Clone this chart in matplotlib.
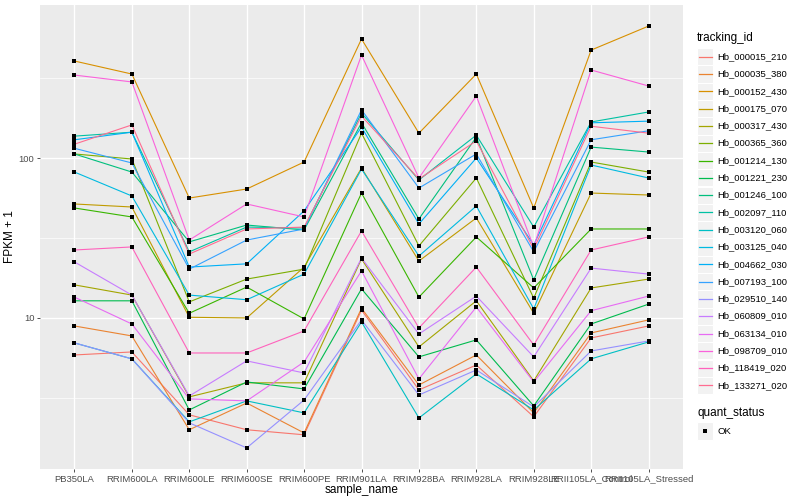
import matplotlib.pyplot as plt
from matplotlib.patches import Rectangle

plt.rcParams['font.family'] = ['Liberation Sans', 'DejaVu Sans']

samples = ['PB350LA', 'RRIM600LA', 'RRIM600LE', 'RRIM600SE', 'RRIM600PE', 'RRIM901LA',
           'RRIM928BA', 'RRIM928LA', 'RRIM928LE', 'RRII105LA_Control', 'RRII105LA_Stressed']

tracking_ids = ['Hb_000015_210', 'Hb_000035_380', 'Hb_000152_430', 'Hb_000175_070',
                'Hb_000317_430', 'Hb_000365_360', 'Hb_001214_130', 'Hb_001221_230',
                'Hb_001246_100', 'Hb_002097_110', 'Hb_003120_060', 'Hb_003125_040',
                'Hb_004662_030', 'Hb_007193_100', 'Hb_029510_140', 'Hb_060809_010',
                'Hb_063134_010', 'Hb_098709_010', 'Hb_118419_020', 'Hb_133271_020']

# ggplot hue palette, 20 levels
id_colors = ['#F8766D', '#EA8331', '#D89000', '#C09B00', '#A3A500', '#7CAE00', '#39B600',
             '#00BB4E', '#00BF7D', '#00C1A3', '#00BFC4', '#00BAE0', '#00B0F6', '#35A2FF',
             '#9590FF', '#C77CFF', '#E76BF3', '#FA62DB', '#FF62BC', '#FF6C91']

# FPKM + 1, one value per sample
hb_000015_210 = [5.87, 6.13, 2.48, 2.00, 1.86, 11.2, 3.55, 5.08, 2.41, 7.50, 8.91]
hb_000035_380 = [8.91, 7.72, 2.00, 2.94, 1.91, 11.5, 3.81, 5.87, 2.55, 8.06, 9.72]
hb_000152_430 = [404, 335, 56.2, 64.0, 94.4, 555, 143, 335, 48.7, 473, 668]
hb_000175_070 = [51.6, 49.4, 10.1, 10.0, 20.8, 86.6, 22.7, 42.2, 10.7, 60.4, 58.7]
hb_000317_430 = [16.1, 13.9, 3.21, 3.93, 3.93, 23.4, 6.59, 12.8, 4.04, 15.4, 17.5]
hb_000365_360 = [106, 98.6, 12.6, 17.5, 20.2, 143, 28.2, 75.0, 13.3, 94.4, 81.7]
hb_001214_130 = [48.7, 42.8, 10.7, 15.6, 9.86, 60.4, 13.5, 32.1, 15.4, 36.0, 36.0]
hb_001221_230 = [12.8, 12.8, 2.66, 3.98, 3.60, 15.2, 5.71, 7.29, 2.82, 9.17, 12.2]
hb_001246_100 = [106, 81.7, 29.9, 38.1, 35.5, 166, 41.6, 135, 17.3, 117, 109]
hb_002097_110 = [137, 145, 25.9, 37.0, 36.5, 191, 72.9, 139, 37.0, 168, 194]
hb_003120_060 = [6.98, 5.55, 2.24, 3.03, 2.55, 9.44, 2.37, 4.47, 2.66, 5.55, 7.08]
hb_003125_040 = [81.7, 57.9, 13.9, 13.0, 18.8, 85.3, 24.4, 50.1, 11.4, 90.4, 75.0]
hb_004662_030 = [130, 145, 20.8, 21.8, 46.7, 156, 38.7, 100, 28.6, 166, 170]
hb_007193_100 = [115, 93.1, 20.2, 30.7, 36.0, 200, 64.9, 106, 25.9, 130, 148]
hb_029510_140 = [6.98, 5.55, 2.21, 1.54, 3.07, 9.72, 3.30, 4.73, 2.78, 6.22, 7.18]
hb_060809_010 = [22.4, 13.9, 3.25, 5.39, 4.53, 23.7, 7.94, 13.7, 5.71, 20.5, 18.8]
hb_063134_010 = [13.5, 9.17, 3.12, 3.03, 5.31, 19.7, 4.16, 11.7, 3.98, 11.1, 13.7]
hb_098709_010 = [330, 299, 30.7, 51.6, 42.8, 440, 75.0, 244, 27.8, 355, 282]
hb_118419_020 = [26.6, 27.8, 6.04, 6.04, 8.30, 35.0, 8.66, 20.8, 6.78, 26.6, 32.1]
hb_133271_020 = [122, 161, 25.1, 36.0, 37.0, 183, 73.9, 128, 27.0, 158, 143]

series = [hb_000015_210, hb_000035_380, hb_000152_430, hb_000175_070, hb_000317_430,
          hb_000365_360, hb_001214_130, hb_001221_230, hb_001246_100, hb_002097_110,
          hb_003120_060, hb_003125_040, hb_004662_030, hb_007193_100, hb_029510_140,
          hb_060809_010, hb_063134_010, hb_098709_010, hb_118419_020, hb_133271_020]

W, H = 800, 500
fig = plt.figure(figsize=(8, 5), dpi=100)
ax = fig.add_axes([40 / W, 31 / H, 643 / W, 464 / H])
ax.set_facecolor('#EBEBEB')

xs = list(range(len(samples)))
for vals, col in zip(series, id_colors):
    ax.plot(xs, vals, color=col, lw=0.8, zorder=2)
for vals in series:
    ax.scatter(xs, vals, marker='s', s=8, color='black', lw=0, zorder=3)

ax.set_yscale('log')
lo = min(min(v) for v in series)
hi = max(max(v) for v in series)
pad = (hi / lo) ** 0.05
ax.set_ylim(lo / pad, hi * pad)
ax.set_xlim(-0.6, len(samples) - 0.4)

ax.set_yticks([10, 100])
ax.set_yticklabels(['10', '100'])
ax.set_yticks([10 ** 0.5, 10 ** 1.5, 10 ** 2.5], minor=True)
ax.set_yticklabels([], minor=True)
ax.set_xticks(xs)
ax.set_xticklabels(samples)

ax.grid(which='major', color='white', lw=1.0)
ax.grid(which='minor', axis='y', color='white', lw=0.5)
ax.set_axisbelow(True)
ax.tick_params(which='major', length=2.5, width=0.6, color='#333333',
               labelsize=6.8, labelcolor='#4D4D4D', pad=1.5)
ax.tick_params(which='minor', length=0)
for s in ax.spines.values():
    s.set_visible(False)

ax.set_xlabel('sample_name', fontsize=8.5, labelpad=0)
ax.set_ylabel('FPKM + 1', fontsize=8.5, labelpad=2)

# legends drawn in pixel space
leg = fig.add_axes([0, 0, 1, 1])
leg.set_xlim(0, W)
leg.set_ylim(H, 0)
leg.axis('off')
leg.patch.set_alpha(0)

leg.text(697, 38, 'tracking_id', fontsize=8.5, va='center', ha='left')
for i, (tid, col) in enumerate(zip(tracking_ids, id_colors)):
    yc = 56.7 + 17.3 * i
    leg.add_patch(Rectangle((697, yc - 8.6), 16, 17.2, fc='#F2F2F2', ec='white', lw=0.8))
    leg.plot([698.5, 711.5], [yc, yc], color=col, lw=0.9)
    leg.text(717, yc, tid, fontsize=6.8, va='center', ha='left')

leg.text(697, 413, 'quant_status', fontsize=8.5, va='center', ha='left')
leg.add_patch(Rectangle((697, 431 - 8.6), 16, 17.2, fc='#F2F2F2', ec='white', lw=0.8))
leg.scatter([705], [431], marker='s', s=8, color='black', lw=0)
leg.text(717, 431, 'OK', fontsize=6.8, va='center', ha='left')

fig.savefig('out.png', dpi=100)
